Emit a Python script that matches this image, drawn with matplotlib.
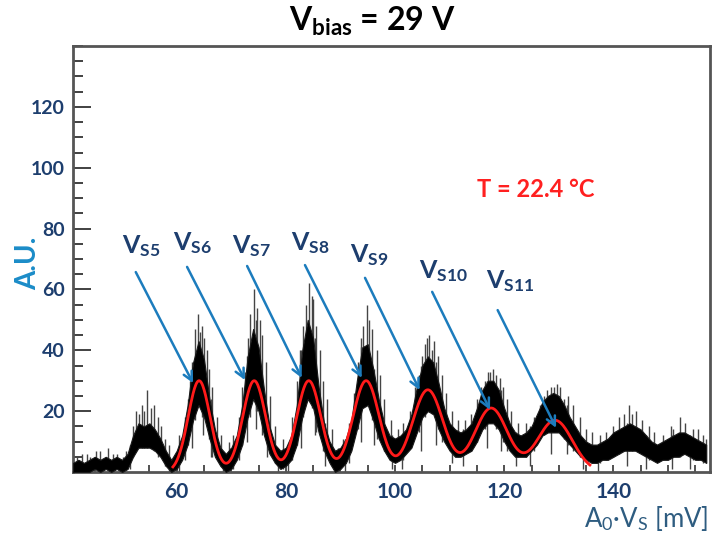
import numpy as np
import matplotlib
matplotlib.use("Agg")
import matplotlib.pyplot as plt
from matplotlib.ticker import MultipleLocator

plt.rcParams['font.family'] = ['Lato', 'DejaVu Sans']
plt.rcParams['mathtext.fontset'] = 'custom'
plt.rcParams['mathtext.rm'] = 'Lato'
plt.rcParams['mathtext.bf'] = 'Lato:bold'
plt.rcParams['mathtext.it'] = 'Lato:italic'

# Spectrum: 1 mV bins, dense band (lower / upper edge of the fluctuating counts)
bin_mv = list(range(41, 158))
band_hi = [3, 4, 3, 4, 5, 4, 5, 4, 5, 4, 6, 12, 16, 15, 16, 14, 11, 7, 4, 7,
           12, 22, 36, 43, 37, 24, 14, 8, 6, 8, 12, 22, 38, 47, 41, 27, 15, 9, 7, 8,
           12, 22, 40, 50, 44, 28, 16, 10, 7, 8, 11, 17, 30, 41, 42, 34, 24, 16, 12, 11,
           12, 14, 19, 28, 35, 38, 36, 29, 21, 16, 14, 13, 14, 16, 21, 27, 30, 30, 27, 21,
           16, 13, 12, 13, 15, 19, 23, 25, 26, 25, 22, 18, 15, 12, 10, 9, 9, 10, 11, 13,
           14, 15, 16, 15, 14, 12, 10, 9, 10, 11, 12, 13, 13, 12, 11, 10, 9]
band_lo = [0, 0, 0, 0, 1, 0, 1, 0, 1, 0, 1, 5, 8, 8, 8, 7, 5, 2, 0, 1,
           4, 9, 17, 22, 18, 11, 5, 2, 0, 1, 4, 9, 18, 24, 20, 12, 6, 3, 1, 2,
           4, 9, 18, 24, 21, 13, 7, 3, 0, 1, 3, 7, 14, 21, 22, 17, 11, 7, 4, 3,
           4, 6, 8, 13, 18, 20, 19, 14, 10, 7, 5, 5, 6, 7, 10, 14, 16, 16, 14, 10,
           7, 5, 5, 5, 7, 9, 12, 13, 13, 13, 11, 9, 7, 5, 4, 3, 3, 4, 4, 5,
           6, 7, 7, 7, 6, 5, 4, 3, 4, 4, 5, 5, 6, 5, 4, 4, 3]

# Single bins standing above the band (mV, counts)
spike_mv = [41.8, 42.6, 43.5, 44.2, 45.3, 46, 47.5, 48.3, 49, 50.2, 50.8, 51.5,
            52.0, 52.5, 53.0, 53.6, 54.0, 54.5, 55.2, 55.9, 56.5, 57.2, 57.8, 58.5,
            61.5, 62.0, 62.5, 63.3, 63.9, 64.2, 64.6, 65.0, 65.5, 66.0, 66.5, 67.3, 68.2, 69.5, 70.3,
            71.4, 72.0, 72.5, 73.0, 73.4, 74.1, 74.5, 74.8, 75.2, 75.7, 76.3, 77, 78, 79.5,
            81.2, 82.0, 82.6, 83.1, 83.6, 84.3, 84.7, 85.0, 85.6, 86.2, 86.8, 87.5, 88.4, 90.5,
            91.5, 92.5, 93.2, 93.7, 94.2, 94.9, 95.3, 95.8, 96.7, 97.2, 98, 99.2, 100.5,
            101.5, 102.8, 103.6, 104.3, 104.9, 105.4, 105.8, 106.2, 106.7, 107.2, 107.8, 108.6,
            109.3, 110.4, 111.5,
            112.8, 114, 115, 115.8, 116.4, 117.0, 117.4, 118.0, 118.5, 119.2, 119.7, 120.6,
            121.3, 122.5,
            124, 125.5, 126.5, 127.2, 127.9, 128.6, 129.1, 129.6, 130.3, 131.0, 131.7, 132.6,
            133.8, 135,
            136, 137.5, 138.7, 140, 141, 142, 142.8, 143.5, 144.2, 145.2, 146.5, 147.5, 149,
            150.5, 151, 152.2, 153.2, 154.5, 155.5, 156.5, 157]
spike_val = [5, 6, 6, 5, 7, 7, 8, 6, 6, 5, 7, 9,
             15, 20, 19, 22, 20, 27, 21, 22, 18, 15, 11, 9,
             18, 24, 30, 47, 52, 46, 48, 44, 40, 34, 28, 18, 12, 10, 12,
             18, 28, 33, 44, 52, 60, 50, 54, 50, 45, 36, 25, 15, 11,
             18, 30, 40, 48, 55, 62, 58, 57, 48, 40, 30, 24, 14, 11,
             16, 26, 36, 44, 48, 55, 50, 47, 40, 32, 24, 17, 14,
             16, 20, 28, 32, 38, 42, 44, 45, 40, 43, 38, 32,
             26, 20, 17,
             17, 19, 24, 28, 30, 33, 33, 34, 32, 31, 28, 24,
             20, 16,
             16, 18, 22, 25, 27, 28, 28, 29, 28, 24, 25, 22,
             18, 14,
             13, 12, 13, 15, 18, 19, 22, 19, 20, 17, 15, 13, 12,
             15, 14, 18, 16, 14, 14, 12, 11]

# Single bins dropping below the band (mV, counts)
dip_mv = [60.5, 62.8, 64.8, 66.2, 68.5, 69.8, 72.8, 74.6, 76.5, 78.6, 80.3, 82.8,
          85.3, 87.2, 89.6, 90.8, 93.8, 96.2, 99.5, 101.2, 104.7, 107.5, 110.5, 112.5,
          116.8, 119.5, 122.2, 124.8, 128.5, 131.5, 134.5, 137.2, 142.5, 146, 150.8, 154]
dip_val = [0, 8, 12, 5, 0, 0, 10, 14, 5, 0, 0, 8,
           12, 2, 0, 0, 10, 9, 1, 1, 7, 9, 3, 2,
           8, 7, 2, 2, 6, 6, 1, 0, 2, 1, 1, 1]

# Multi-gaussian fit parameters
fit_pos = [64.1, 74.2, 84.2, 94.7, 106.0, 117.6, 129.3]
fit_amp = [30, 30, 30, 30, 27, 21, 17]
fit_sigma = [2.0, 2.1, 2.2, 2.4, 2.8, 3.0, 3.2]
fit_range = (59.3, 135.7)

peak_names = ["S5", "S6", "S7", "S8", "S9", "S10", "S11"]
label_xy = [(50.0, 72.0), (59.3, 73.0), (70.1, 72.0), (80.9, 73.0),
            (91.7, 69.0), (104.4, 63.8), (116.6, 60.5)]
arrow_from = [(52.5, 65.7), (61.9, 67.4), (72.9, 67.7), (83.5, 68.0),
              (94.5, 63.8), (106.8, 59.2), (118.8, 53.2)]
arrow_to = [(63.0, 29.2), (72.5, 30.2), (82.9, 30.9), (93.9, 30.9),
            (104.5, 26.9), (117.4, 20.4), (129.5, 14.5)]

x_ticks = [60, 80, 100, 120, 140]
y_ticks = [20, 40, 60, 80, 100, 120]

navy = "#1d3e6e"
arrow_blue = "#1c7cbd"

fig = plt.figure(figsize=(7.16, 5.33), dpi=100)
ax = fig.add_axes([73 / 716, 1 - 472 / 533, (710 - 73) / 716, (472 - 46) / 533])

# spectrum
bins = np.asarray(bin_mv)
lo = np.asarray(band_lo)
hi = np.asarray(band_hi)
spike_idx = np.clip(np.rint(np.asarray(spike_mv) - bins[0]).astype(int), 0, len(bins) - 1)
dip_idx = np.clip(np.rint(np.asarray(dip_mv) - bins[0]).astype(int), 0, len(bins) - 1)
ax.vlines(spike_mv, lo[spike_idx], spike_val, color="#454545", lw=1.0, zorder=2)
ax.vlines(dip_mv, dip_val, hi[dip_idx], color="#454545", lw=1.0, zorder=2)
ax.fill_between(bin_mv, band_lo, band_hi, color="black", lw=0.8, edgecolor="#1a1a1a", zorder=3)

# fit
xf = np.linspace(fit_range[0], fit_range[1], 600)
yf = np.zeros_like(xf)
for p, a, s in zip(fit_pos, fit_amp, fit_sigma):
    yf += a * np.exp(-0.5 * ((xf - p) / s) ** 2)
ax.plot(xf, yf, color="#ff1a1a", lw=2.0, zorder=4)

# peak labels and arrows
for name, lxy, a0, a1 in zip(peak_names, label_xy, arrow_from, arrow_to):
    ax.text(lxy[0], lxy[1], r"$\mathbf{V}_{\mathbf{" + name + "}}$", color=navy,
            fontsize=18, ha="left", va="baseline", zorder=5)
    ax.annotate("", xy=a1, xytext=a0,
                arrowprops=dict(arrowstyle="->", color=arrow_blue, lw=1.8,
                                mutation_scale=16, shrinkA=0, shrinkB=0),
                zorder=5)

ax.text(115.0, 93.0, "T = 22.4 °C", color="#ff2020", fontsize=17,
        fontweight="bold", ha="left", va="center")

ax.set_xlim(41, 157.7)
ax.set_ylim(0, 140)
ax.set_xticks(x_ticks)
ax.set_yticks(y_ticks)
ax.xaxis.set_minor_locator(MultipleLocator(5))
ax.yaxis.set_minor_locator(MultipleLocator(5))
ax.tick_params(axis="y", which="major", direction="in", length=13, width=1.3,
               color="#333333", labelsize=14, labelcolor=navy, pad=6)
ax.tick_params(axis="y", which="minor", direction="in", length=7, width=1.3,
               color="#333333")
ax.tick_params(axis="x", which="both", direction="in", length=5, width=1.2,
               color="#333333", labelsize=15, labelcolor=navy, pad=7)
for lab in ax.get_xticklabels() + ax.get_yticklabels():
    lab.set_fontweight("bold")
for sp in ax.spines.values():
    sp.set_color("#555555")
    sp.set_linewidth(2)

fig.text(372 / 716, 1 - 21 / 533, r"$\mathbf{V}_{\mathbf{bias}}$ = 29 V",
         fontsize=23, fontweight="bold", color="black", ha="center", va="center")
fig.text(28 / 716, 1 - 263 / 533, "A.U.", rotation=90, fontsize=20,
         fontweight="bold", color="#1b8cc8", ha="center", va="center")
fig.text(708 / 716, 1 - 527 / 533, r"A$_0$·V$_\mathrm{S}$ [mV]", fontsize=18.5,
         color="#2e5c80", ha="right", va="baseline")

fig.savefig("out.png", dpi=100)
